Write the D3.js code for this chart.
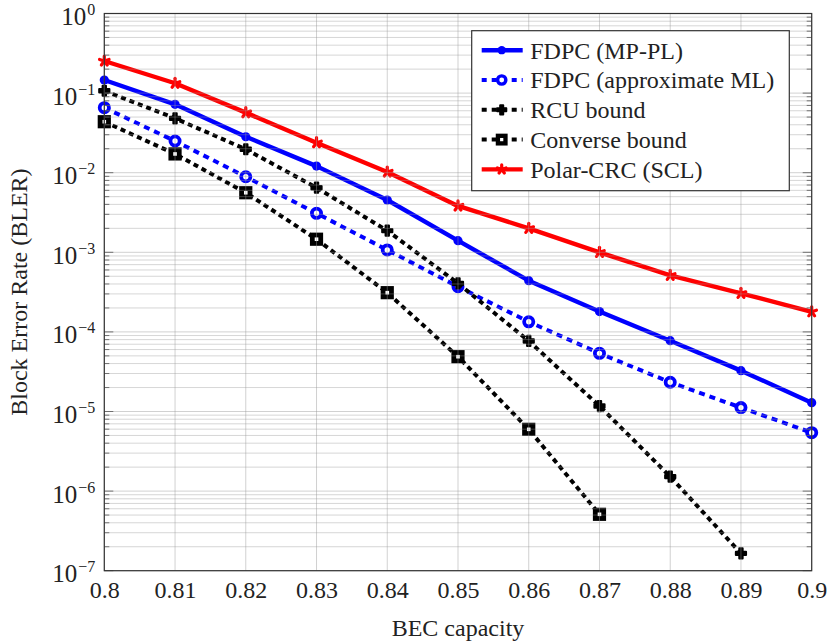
<!DOCTYPE html>
<html>
<head>
<meta charset="utf-8">
<script src="https://cdn.jsdelivr.net/npm/d3@7"></script>
<style>
  body { margin: 0; background: #fff; }
  svg { display: block; }
  text { font-family: "Liberation Serif", "DejaVu Serif", serif; fill: #222; }
</style>
</head>
<body>
<div id="chart"></div>
<script>
(function() {
  'use strict';

  // BEC capacity (x axis)
  const capacity = [0.80, 0.81, 0.82, 0.83, 0.84, 0.85, 0.86, 0.87, 0.88, 0.89, 0.90];

  // Block error rate per curve
  const fdpcMPPL   = [0.146, 0.0723, 0.0283, 0.0121, 0.00454, 0.0014, 4.4e-4, 1.8e-4, 7.75e-5, 3.26e-5, 1.29e-5];
  const fdpcApprox = [0.0656, 0.025, 0.0089, 0.00309, 0.00107, 3.7e-4, 1.34e-4, 5.38e-5, 2.33e-5, 1.12e-5, 5.42e-6];
  const rcuBound   = [0.107, 0.0482, 0.0197, 0.00648, 0.00187, 4.07e-4, 7.69e-5, 1.17e-5, 1.52e-6, 1.65e-7];
  const converse   = [0.0437, 0.0172, 0.0056, 0.00146, 3.11e-4, 4.88e-5, 5.97e-6, 5.11e-7];
  const polarCRC   = [0.253, 0.133, 0.0568, 0.0238, 0.0102, 0.00382, 0.0020, 0.0010, 5.14e-4, 3.05e-4, 1.79e-4];

  const seriesNames = ['FDPC (MP-PL)', 'FDPC (approximate ML)', 'RCU bound', 'Converse bound', 'Polar-CRC (SCL)'];

  // Tick values
  const xTicks = [0.80, 0.81, 0.82, 0.83, 0.84, 0.85, 0.86, 0.87, 0.88, 0.89, 0.90];
  const xTickLabels = ['0.8', '0.81', '0.82', '0.83', '0.84', '0.85', '0.86', '0.87', '0.88', '0.89', '0.9'];
  const yExponents = [0, -1, -2, -3, -4, -5, -6, -7];

  const width = 831;
  const height = 644;
  const margin = { top: 13.5, right: 19.3, bottom: 73.3, left: 104.3 };
  const innerW = width - margin.left - margin.right;
  const innerH = height - margin.top - margin.bottom;

  const svg = d3.select('#chart')
    .append('svg')
    .attr('width', width)
    .attr('height', height);

  const g = svg.append('g')
    .attr('transform', `translate(${margin.left},${margin.top})`);

  const x = d3.scaleLinear().domain([0.8, 0.9]).range([0, innerW]);
  const y = d3.scaleLog().domain([1e-7, 1]).range([innerH, 0]);

  // minor values 2..9 in every decade
  const minorY = [];
  for (let e = -7; e < 0; e++) {
    for (let m = 2; m <= 9; m++) minorY.push(m * Math.pow(10, e));
  }
  const majorY = yExponents.map(e => Math.pow(10, e));

  const styles = [
    { data: fdpcMPPL,   color: '#0000ff', dash: null,  width: 4.4, mark: 'dot' },
    { data: fdpcApprox, color: '#0000ff', dash: '6,5', width: 4,   mark: 'ring' },
    { data: rcuBound,   color: '#000000', dash: '5,4', width: 4,   mark: 'plus' },
    { data: converse,   color: '#000000', dash: '5,4', width: 4,   mark: 'square' },
    { data: polarCRC,   color: '#ff0000', dash: null,  width: 4.4, mark: 'star' }
  ];

  const line = d3.line()
    .x(d => x(d[0]))
    .y(d => y(d[1]));

  function drawMark(sel, mark, color, k) {
    k = k || 1;
    if (mark === 'dot') {
      sel.append('circle').attr('r', 4.6 * k).attr('fill', color);
    } else if (mark === 'ring') {
      sel.append('circle').attr('r', 4.6 * k).attr('fill', '#fff')
        .attr('stroke', color).attr('stroke-width', 3.8 * k);
    } else if (mark === 'plus') {
      sel.append('path').attr('d', d3.symbol(d3.symbolCross, 58 * k * k)())
        .attr('fill', color).attr('stroke', color).attr('stroke-width', 2)
        .attr('stroke-linejoin', 'round');
    } else if (mark === 'square') {
      const h = 4.2 * k;
      sel.append('rect').attr('x', -h).attr('y', -h).attr('width', 2 * h).attr('height', 2 * h)
        .attr('fill', '#fff').attr('stroke', color).attr('stroke-width', 4.8 * k);
    } else if (mark === 'star') {
      // asterisk-like star made of five spokes
      for (let j = 0; j < 5; j++) {
        const a = -Math.PI / 2 + j * 2 * Math.PI / 5;
        sel.append('line')
          .attr('x1', 0).attr('y1', 0)
          .attr('x2', 5 * k * Math.cos(a)).attr('y2', 5 * k * Math.sin(a))
          .attr('stroke', color).attr('stroke-width', 3.2).attr('stroke-linecap', 'round');
      }
    }
  }

  // Data lines
  const plotGroup = g.append('g').attr('class', 'plots');
  styles.forEach(s => {
    const pts = s.data.map((v, i) => [capacity[i], v]);
    const grp = plotGroup.append('g');
    grp.append('path')
      .attr('d', line(pts))
      .attr('fill', 'none')
      .attr('stroke', s.color)
      .attr('stroke-width', s.width)
      .attr('stroke-dasharray', s.dash)
      .attr('stroke-linejoin', 'round');
    pts.forEach(p => {
      const m = grp.append('g').attr('transform', `translate(${x(p[0])},${y(p[1])})`);
      drawMark(m, s.mark, s.color);
    });
  });

  // Grid (drawn above the curves, semi transparent like the original)
  const grid = g.append('g').attr('class', 'grid');
  grid.selectAll(null)
    .data(minorY)
    .enter().append('line')
    .attr('x1', 0).attr('x2', innerW)
    .attr('y1', d => y(d)).attr('y2', d => y(d))
    .attr('stroke', '#999').attr('stroke-opacity', 0.4).attr('stroke-width', 1);
  grid.selectAll(null)
    .data(majorY)
    .enter().append('line')
    .attr('x1', 0).attr('x2', innerW)
    .attr('y1', d => y(d)).attr('y2', d => y(d))
    .attr('stroke', '#999').attr('stroke-opacity', 0.45).attr('stroke-width', 1);
  grid.selectAll(null)
    .data(xTicks)
    .enter().append('line')
    .attr('x1', d => x(d)).attr('x2', d => x(d))
    .attr('y1', 0).attr('y2', innerH)
    .attr('stroke', '#999').attr('stroke-opacity', 0.45).attr('stroke-width', 1);

  // Inner tick marks on left and right
  const tickGroup = g.append('g').attr('class', 'ticks');
  [[0, 1], [innerW, -1]].forEach(([x0, dir]) => {
    tickGroup.selectAll(null).data(minorY).enter().append('line')
      .attr('x1', x0).attr('x2', x0 + dir * 5)
      .attr('y1', d => y(d)).attr('y2', d => y(d))
      .attr('stroke', '#555').attr('stroke-width', 0.8);
    tickGroup.selectAll(null).data(majorY).enter().append('line')
      .attr('x1', x0).attr('x2', x0 + dir * 9)
      .attr('y1', d => y(d)).attr('y2', d => y(d))
      .attr('stroke', '#555').attr('stroke-width', 0.8);
  });

  // Frame
  g.append('rect')
    .attr('width', innerW).attr('height', innerH)
    .attr('fill', 'none').attr('stroke', '#333').attr('stroke-width', 1.2);

  // X axis labels
  const xAxis = d3.axisBottom(x)
    .tickValues(xTicks)
    .tickFormat((d, i) => xTickLabels[i])
    .tickSize(0)
    .tickPadding(10);
  const xg = g.append('g')
    .attr('transform', `translate(0,${innerH})`)
    .call(xAxis);
  xg.select('.domain').remove();
  xg.selectAll('text')
    .attr('font-size', 24)
    .attr('font-family', '"Liberation Serif", serif')
    .attr('fill', '#222')
    .attr('dy', '0.71em');

  // Y axis labels: 10^e
  const yAxis = d3.axisLeft(y)
    .tickValues(majorY)
    .tickFormat(() => '')
    .tickSize(0)
    .tickPadding(9);
  const yg = g.append('g').call(yAxis);
  yg.select('.domain').remove();
  yg.selectAll('.tick text').each(function(d) {
    const e = Math.round(Math.log10(d));
    const t = d3.select(this)
      .attr('font-size', 25)
      .attr('font-family', '"Liberation Serif", serif')
      .attr('fill', '#222')
      .attr('dy', '11px');
    t.append('tspan').text('10');
    t.append('tspan')
      .attr('font-size', 16)
      .attr('dx', '1')
      .attr('dy', '-10px')
      .text(e === 0 ? '0' : '\u2212' + Math.abs(e));
  });

  // Axis titles
  svg.append('text')
    .attr('x', margin.left + innerW / 2)
    .attr('y', 636)
    .attr('text-anchor', 'middle')
    .attr('font-size', 24)
    .text('BEC capacity');

  svg.append('text')
    .attr('transform', `translate(27,${margin.top + innerH / 2}) rotate(-90)`)
    .attr('text-anchor', 'middle')
    .attr('font-size', 24)
    .text('Block Error Rate (BLER)');

  // Legend
  const legend = svg.append('g').attr('transform', 'translate(471.7,30.7)');
  legend.append('rect')
    .attr('width', 317.6).attr('height', 160)
    .attr('fill', '#fff').attr('stroke', '#333').attr('stroke-width', 1.2);
  seriesNames.forEach((name, i) => {
    const s = styles[i];
    const rowY = 19.5 + i * 29.8;
    const row = legend.append('g').attr('transform', `translate(0,${rowY})`);
    row.append('line')
      .attr('x1', 10).attr('x2', 51)
      .attr('stroke', s.color)
      .attr('stroke-width', s.width)
      .attr('stroke-dasharray', s.dash ? '5,5' : null);
    const m = row.append('g').attr('transform', 'translate(30,0)');
    drawMark(m, s.mark, s.color, 0.9);
    row.append('text')
      .attr('x', 58.5)
      .attr('dy', '0.35em')
      .attr('font-size', 24)
      .text(name);
  });
})();
</script>
</body>
</html>
